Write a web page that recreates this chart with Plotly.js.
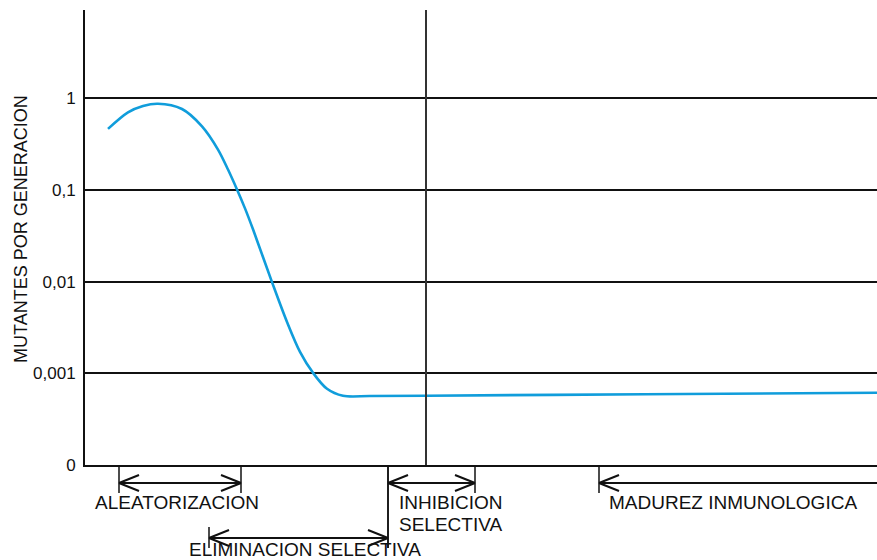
<!DOCTYPE html>
<html>
<head>
<meta charset="utf-8">
<script src="https://cdn.plot.ly/plotly-3.0.1.min.js"></script>
<style>html,body{margin:0;padding:0;background:#fff;}#chart{width:877px;height:560px;}</style>
</head>
<body>
<div id="chart"></div>
<script>
// Data (x in arbitrary time units along the axis)
const timeX = [23, 43, 58, 73, 97, 117, 133, 143, 152, 160, 168, 187, 202, 215, 228, 242, 258, 285, 341, 560, 792];
const mutants = [0.4627, 0.701, 0.8227, 0.871, 0.763, 0.4937, 0.2756, 0.167, 0.1012, 0.0629, 0.0372, 0.00988, 0.00363, 0.001713, 0.001012, 0.000678, 0.000569, 0.000565, 0.000569, 0.000592, 0.000614];
const tickVals = [0.0001, 0.001, 0.01, 0.1, 1];
const tickText = ['0', '0,001', '0,01', '0,1', '1'];
const yTitle = 'MUTANTES POR GENERACION';
const phaseNames = ['ALEATORIZACION', 'ELIMINACION SELECTIVA', 'INHIBICION|SELECTIVA', 'MADUREZ INMUNOLOGICA'];
const phaseStart = [34, 124, 303, 514];
const phaseEnd = [156, 303, 390, 792];
const phaseOpenEnd = [false, false, false, true];
const markerX = 341;
const xMax = 792;

// Layout helpers (pixel offsets below axis -> paper units)
const plotH = 455, plotW = 792;
const P = d => -d / plotH;
const rowY = [18, 73, 18, 18];
const startTick = [[0, 28], [62, 83], [0, 83], [0, 28]];
const endTick = [[0, 28], [0, 83], [0, 28], null];
const labelDX = [-26, -22, 9, 8];
const labelY = [38, 84, 38, 38];
const lineGap = 21;
const FONT = 'Liberation Sans, Arial, Helvetica, sans-serif';

const shapes = [];
const ink = '#111';
const annotations = [];
const seg = (x0, x1, y0, y1, w) => shapes.push({type: 'line', xref: 'x', yref: 'paper', x0, x1, y0, y1, line: {color: ink, width: w}});
phaseNames.forEach((name, i) => {
  const y = P(rowY[i]);
  const s = phaseStart[i], e = phaseEnd[i];
  seg(s, s, P(startTick[i][0]), P(startTick[i][1]), 1.5);
  if (endTick[i]) seg(e, e, P(endTick[i][0]), P(endTick[i][1]), 1.5);
  seg(s, e, y, y, 2);
  seg(s, s + 20, y, y + 8 / plotH, 2);
  seg(s, s + 20, y, y - 8 / plotH, 2);
  if (!phaseOpenEnd[i]) {
    seg(e, e - 20, y, y + 8 / plotH, 2);
    seg(e, e - 20, y, y - 8 / plotH, 2);
  }
  name.split('|').forEach((ln, k) => {
    annotations.push({
      text: ln, xref: 'x', yref: 'paper', x: s + labelDX[i], y: P(labelY[i] + k * lineGap),
      xanchor: 'left', yanchor: 'middle', align: 'left', showarrow: false,
      font: {family: FONT, size: 19, color: '#111'}
    });
  });
});
// y-axis title
annotations.push({
  text: yTitle, xref: 'paper', yref: 'paper', x: (21 - 85) / plotW, y: (465 - 229) / plotH,
  xanchor: 'center', yanchor: 'middle', textangle: -90, showarrow: false,
  font: {family: FONT, size: 18, color: '#111'}
});
// vertical marker line
shapes.push({type: 'line', xref: 'x', yref: 'paper', x0: markerX, x1: markerX, y0: 0, y1: 1, line: {color: '#333', width: 2}});

const trace = {
  x: timeX, y: mutants, type: 'scatter', mode: 'lines',
  line: {color: '#109ddb', width: 2.6, shape: 'spline', smoothing: 0.9},
  hoverinfo: 'skip'
};

const layout = {
  width: 877, height: 560,
  margin: {l: 85, r: 0, t: 10, b: 95},
  paper_bgcolor: '#fff', plot_bgcolor: '#fff',
  showlegend: false,
  font: {family: FONT, size: 17, color: '#111'},
  xaxis: {
    range: [0, xMax], showgrid: false, zeroline: false, showticklabels: false,
    showline: true, linecolor: '#111', linewidth: 2, ticks: ''
  },
  yaxis: {
    type: 'log', range: [-4, 0.962],
    tickmode: 'array', tickvals: tickVals, ticktext: tickText,
    showgrid: true, gridcolor: '#111', gridwidth: 2,
    zeroline: false, showline: true, linecolor: '#111', linewidth: 2,
    ticks: '', ticklabelstandoff: 4,
    tickfont: {size: 17, color: '#111'}
  },
  shapes: shapes,
  annotations: annotations
};

Plotly.newPlot('chart', [trace], layout, {displayModeBar: false, staticPlot: true});
</script>
</body>
</html>
